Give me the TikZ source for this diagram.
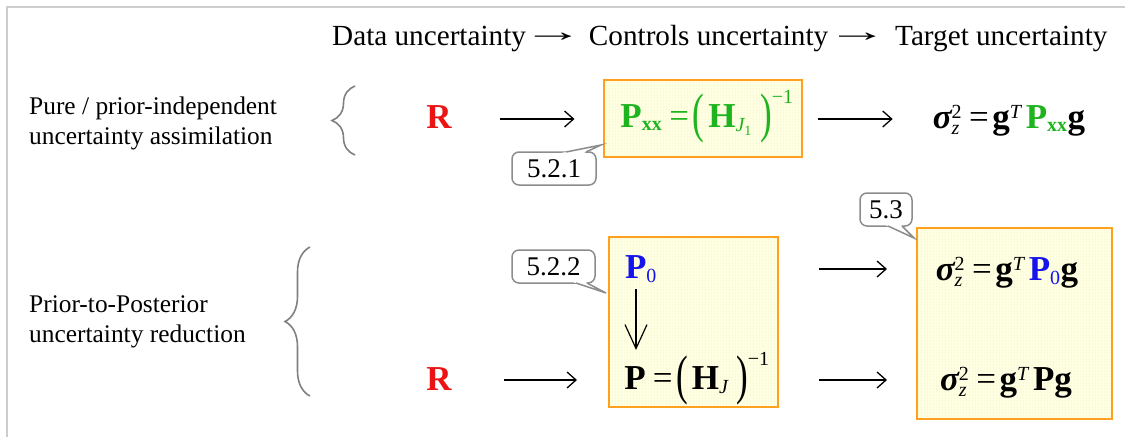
\documentclass[tikz,border=0pt]{standalone}
\usepackage{amsmath}
\usepackage{graphicx}
\usepackage{fontspec}
\setmainfont{Liberation Serif}
\usetikzlibrary{arrows.meta,patterns,decorations.pathreplacing,calc}
\definecolor{boxorange}{RGB}{255,160,30}
\definecolor{boxfill}{RGB}{255,255,228}
\definecolor{dotc}{RGB}{232,232,170}
\definecolor{eqgreen}{RGB}{30,180,30}
\definecolor{eqblue}{RGB}{20,20,235}
\definecolor{eqred}{RGB}{235,20,20}
\definecolor{framegray}{RGB}{205,205,205}
\definecolor{callgray}{RGB}{140,140,140}
\definecolor{bracegray}{RGB}{128,128,128}
\newcommand{\eqb}[1]{\text{\bfseries #1}}
\newcommand{\eqbi}[1]{\text{\bfseries\itshape #1}}
\newcommand{\scb}[1]{\text{\fontsize{20}{20}\selectfont\bfseries #1}}
\newcommand{\sci}[1]{\text{\fontsize{20}{20}\selectfont\itshape #1}}
\newcommand{\scr}[1]{\text{\fontsize{20}{20}\selectfont #1}}
\newcommand{\sscr}[1]{\text{\fontsize{14}{14}\selectfont #1}}
\newcommand{\eqeq}{\text{\hspace{0.2em}=\hspace{0.1em}}}
\newcommand{\eqlp}{\text{\raisebox{-0.13em}{\scalebox{1}[1.55]{(}}\hspace{0.12em}}}
\newcommand{\eqrp}{\text{\hspace{0.22em}\raisebox{-0.13em}{\scalebox{1}[1.55]{)}}}}
\newcommand{\hdrarrow}{\makebox[34pt][c]{\raisebox{4pt}{\scalebox{2.1}[1]{→}}}}
\begin{document}
\begin{tikzpicture}[x=1pt,y=-1pt,
  eqn/.style={inner sep=0pt, anchor=base, font=\fontsize{35}{42}\selectfont},
  resbox/.style={draw=boxorange, line width=2pt, preaction={fill=boxfill}, pattern=dots, pattern color=dotc, inner sep=0pt},
  flow/.style={line width=1.3pt, -{Straight Barb[length=9pt,width=16pt,line width=1.3pt]}},
  downflow/.style={line width=1.2pt, -{Straight Barb[length=24pt,width=22pt,line width=1.2pt]}},
  callout/.style={draw=callgray, line width=1.5pt, fill=white},
  calltext/.style={inner sep=0pt, font=\fontsize{27}{30}\selectfont},
  bracestyle/.style={draw=bracegray, line width=1.6pt, decorate},
  sidelabel/.style={inner sep=0pt, anchor=base west, align=left, font=\fontsize{25.4}{29.5}\selectfont}
]
\useasboundingbox (0,0) rectangle (1125,437);
\draw[framegray, line width=2pt] (7,437) -- (7,7) -- (1125,7);

% header
\node[inner sep=0pt, anchor=base west, font=\fontsize{29.2}{32}\selectfont] (hdr) at (332,45)
  {Data uncertainty\hspace{10pt}\hdrarrow\hspace{19pt}Controls uncertainty\hspace{12pt}\hdrarrow\hspace{21pt}Target uncertainty};

% side labels
\node[sidelabel] (lab1) at (29,144) {Pure / prior-independent\\uncertainty assimilation};
\node[sidelabel] (lab2) at (29,342) {Prior-to-Posterior\\uncertainty reduction};
\draw[bracestyle, decoration={brace, amplitude=23pt}] (355,155) -- (355,86);
\draw[bracestyle, decoration={brace, amplitude=25pt}] (310,396) -- (310,247);

% boxes
\node[resbox, minimum width=198pt, minimum height=77pt] (box1) at (702.5,118.5) {};
\node[resbox, minimum width=169pt, minimum height=170pt] (box2) at (693.5,322) {};
\node[resbox, minimum width=195pt, minimum height=191pt] (box3) at (1014.5,323.5) {};

% row 1
\node[eqn, text=eqred] (R1) at (439,128) {\bfseries R};
\node[eqn, text=eqgreen] (Pxx) at (707,127)
  {$\eqb{P}_{\scb{xx}} \eqeq \eqlp\eqb{H}_{\sci{J}_{\sscr{1}}}\eqrp^{\scr{−1}}$};
\node[eqn] (F1) at (1009,128)
  {$\eqbi{σ}_{\sci{z}}^{\scr{2}} \eqeq \eqb{g}^{\sci{T}}\,\textcolor{eqgreen}{\eqb{P}_{\scb{xx}}}\eqb{g}$};

% rows 2 and 3
\node[eqn] (P0) at (641,278) {$\textcolor{eqblue}{\eqb{P}_{\scr{0}}}$};
\node[eqn] (F2) at (1007,280)
  {$\eqbi{σ}_{\sci{z}}^{\scr{2}} \eqeq \eqb{g}^{\sci{T}}\,\textcolor{eqblue}{\eqb{P}_{\scr{0}}}\eqb{g}$};
\node[eqn, text=eqred] (R2) at (439,390) {\bfseries R};
\node[eqn] (P2) at (697,389) {$\eqb{P} \eqeq \eqlp\eqb{H}_{\sci{J}}\eqrp^{\scr{−1}}$};
\node[eqn] (F3) at (1006,390)
  {$\eqbi{σ}_{\sci{z}}^{\scr{2}} \eqeq \eqb{g}^{\sci{T}}\,\eqb{P}\eqb{g}$};

% connectors
\coordinate (y1) at (0,119);
\coordinate (y2) at (0,269);
\coordinate (y3) at (0,380);
\draw[flow] ([xshift=48pt]R1.east |- y1) -- ([xshift=-28pt]box1.west |- y1);
\draw[flow] ([xshift=15pt]box1.east |- y1) -- ([xshift=-40pt]F1.west |- y1);
\draw[flow] ([xshift=52pt]R2.east |- y3) -- ([xshift=-31pt]box2.west |- y3);
\draw[flow] ([xshift=40pt]box2.east |- y2) -- ([xshift=-29pt]box3.west |- y2);
\draw[flow] ([xshift=40pt]box2.east |- y3) -- ([xshift=-29pt]box3.west |- y3);
\coordinate (dA) at (636,289);
\coordinate (dB) at (636,350);
\draw[downflow] (dA) -- (dB);

% callouts
\draw[callout, rounded corners=7pt] (512,152) rectangle (596,185);
\coordinate (t1) at (601,145); \coordinate (b1l) at (566,152); \coordinate (b1r) at (586,152);
\fill[white] (t1) -- ($(t1)!1.3!(b1l)$) -- ($(t1)!1.3!(b1r)$) -- cycle;
\draw[draw=callgray, line width=1.5pt] (b1l) -- (t1) -- (b1r);
\node[calltext] (c1) at (554,169) {5.2.1};

\draw[callout, rounded corners=7pt] (512,250) rectangle (595,283);
\coordinate (t2) at (606,293); \coordinate (b2l) at (576,283); \coordinate (b2r) at (587,283);
\fill[white] (t2) -- ($(t2)!1.3!(b2l)$) -- ($(t2)!1.3!(b2r)$) -- cycle;
\draw[draw=callgray, line width=1.5pt] (b2l) -- (t2) -- (b2r);
\node[calltext] (c2) at (553.5,267) {5.2.2};

\draw[callout, rounded corners=7pt] (860,193) rectangle (912,226);
\coordinate (t3) at (914,238); \coordinate (b3l) at (888,226); \coordinate (b3r) at (902,226);
\fill[white] (t3) -- ($(t3)!1.3!(b3l)$) -- ($(t3)!1.3!(b3r)$) -- cycle;
\draw[draw=callgray, line width=1.5pt] (b3l) -- (t3) -- (b3r);
\node[calltext] (c3) at (886,210) {5.3};
\end{tikzpicture}
\end{document}
